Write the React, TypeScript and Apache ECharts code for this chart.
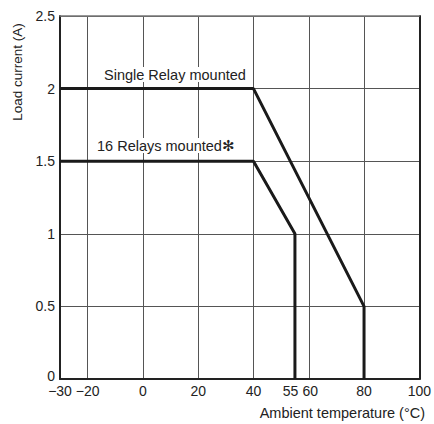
import React, { useEffect, useRef } from "react";
import * as echarts from "echarts";

const xLabelValues = [-30, -20, 0, 20, 40, 55, 60, 80, 100];
const xGridValues = [-20, 0, 20, 40, 60, 80];
const yTicks = [0, 0.5, 1, 1.5, 2, 2.5];
const singleRelay: [number, number][] = [[-30, 2], [40, 2], [80, 0.5], [80, 0]];
const sixteenRelays: [number, number][] = [[-30, 1.5], [40, 1.5], [55, 1], [55, 0]];
const singleLabel = "Single Relay mounted";
const sixteenLabel = "16 Relays mounted✻";
const xName = "Ambient temperature (°C)";
const yName = "Load current (A)";

export default function App() {
  const ref = useRef<HTMLDivElement>(null);
  useEffect(() => {
    if (!ref.current) return;
    const chart = echarts.init(ref.current, null, { renderer: "svg" });
    const font = "Liberation Sans, Arial, sans-serif";
    const base = { fontSize: 14, fontFamily: font, color: "#222" };
    chart.setOption({
      animation: false,
      grid: { left: 60, right: 13.5, top: 16, bottom: 45 },
      xAxis: [
        {
          type: "value",
          min: -30,
          max: 100,
          axisLine: { show: true, onZero: false, lineStyle: { color: "#222", width: 2 } },
          axisTick: { show: false, customValues: xGridValues },
          axisLabel: {
            customValues: xLabelValues,
            ...base,
            margin: 5,
            formatter: (v: number) => {
              if (v === 55) return "{l|55}";
              if (v === 60) return "{r|60}";
              return v < 0 ? "\u2212" + Math.abs(v) : String(v);
            },
            rich: {
              l: { ...base, padding: [0, 9, 0, 0] },
              r: { ...base, padding: [0, 0, 0, 3] },
            },
          },
          splitLine: { show: true, lineStyle: { color: "#555", width: 1 } },
        },
        {
          type: "value",
          position: "top",
          min: -30,
          max: 100,
          axisLine: { show: true, onZero: false, lineStyle: { color: "#777", width: 1.5 } },
          axisTick: { show: false },
          axisLabel: { show: false },
          splitLine: { show: false },
        },
      ],
      yAxis: [
        {
          type: "value",
          min: 0,
          max: 2.5,
          interval: 0.5,
          axisLine: { show: true, onZero: false, lineStyle: { color: "#222", width: 2 } },
          axisTick: { show: false },
          axisLabel: {
            ...base,
            margin: 5,
            formatter: (v: number) => (v === yTicks[0] ? "{z|" + v + "}" : String(v)),
            rich: { z: { ...base, padding: [0, 0, 6, 0] } },
          },
          splitLine: { show: true, lineStyle: { color: "#555", width: 1 } },
        },
        {
          type: "value",
          position: "right",
          min: 0,
          max: 2.5,
          axisLine: { show: true, onZero: false, lineStyle: { color: "#222", width: 2 } },
          axisTick: { show: false },
          axisLabel: { show: false },
          splitLine: { show: false },
        },
      ],
      series: [
        {
          type: "line",
          data: singleRelay,
          symbol: "none",
          lineStyle: { color: "#1a1a1a", width: 3 },
          z: 5,
        },
        {
          type: "line",
          data: sixteenRelays,
          symbol: "none",
          lineStyle: { color: "#1a1a1a", width: 3 },
          z: 5,
        },
      ],
      graphic: [
        {
          type: "text",
          left: 104,
          top: 67,
          z: 10,
          style: { text: singleLabel, fontSize: 14.5, fontFamily: font, fill: "#222", backgroundColor: "#fff" },
        },
        {
          type: "text",
          left: 97,
          top: 138,
          z: 10,
          style: { text: sixteenLabel, fontSize: 14.5, fontFamily: font, fill: "#222", backgroundColor: "#fff" },
        },
        {
          type: "text",
          x: 17,
          y: 72,
          rotation: Math.PI / 2,
          style: {
            text: yName,
            fontSize: 13.5,
            fontFamily: font,
            fill: "#222",
            align: "center",
            verticalAlign: "middle",
          },
        },
        {
          type: "text",
          x: 425,
          y: 413,
          style: {
            text: xName,
            fontSize: 14.5,
            fontFamily: font,
            fill: "#222",
            align: "right",
            verticalAlign: "middle",
          },
        },
      ],
    });
    return () => chart.dispose();
  }, []);
  return (
    <div
      ref={ref}
      style={{ position: "absolute", left: 0, top: 0, width: 434, height: 424, background: "#fff" }}
    />
  );
}
